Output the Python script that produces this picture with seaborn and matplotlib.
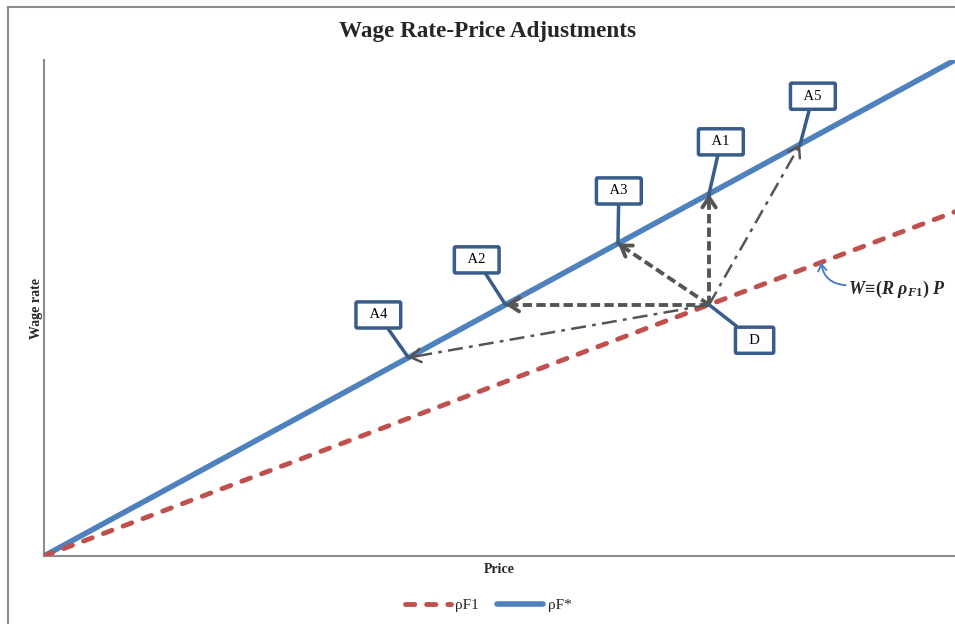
import numpy as np
import pandas as pd
import matplotlib.pyplot as plt
import matplotlib.patches as mpatches
from matplotlib.lines import Line2D
import seaborn as sns

# ── Data ───────────────────────────────────────────────────────────────────────
price = [0, 100]
slope_f1 = 0.694      # rho F1 (original real wage ratio)
slope_fstar = 1.0     # rho F* (target ratio)
wage_f1 = [p * slope_f1 for p in price]
wage_fstar = [p * slope_fstar for p in price]

# starting point D on the rho F1 line
d_price = 73.0
d_wage = d_price * slope_f1

# adjustment targets on the rho F* line (price, wage)
targets = {
    "A1": (d_price, d_price),          # wage rises, price constant
    "A2": (d_wage, d_wage),            # price falls, wage constant
    "A3": (63.0, 63.0),
    "A4": (40.0, 40.0),
    "A5": (83.0, 83.0),
}
dashed_moves = ["A1", "A2", "A3"]
dashdot_moves = ["A4", "A5"]

# callout box positions (data units)
label_pos = {
    "A1": (74.3, 83.5),
    "A2": (47.5, 59.7),
    "A3": (63.1, 73.6),
    "A4": (36.7, 48.6),
    "A5": (84.4, 92.7),
    "D": (78.0, 43.5),
}

df = pd.DataFrame({"price": price, "f1": wage_f1, "fstar": wage_fstar})

# ── Layout ─────────────────────────────────────────────────────────────────────
sns.set_theme(style="white")
plt.rcParams["font.family"] = ["Liberation Serif", "DejaVu Serif"]
plt.rcParams["mathtext.fontset"] = "custom"
plt.rcParams["mathtext.it"] = "Liberation Serif:italic:bold"
plt.rcParams["mathtext.rm"] = "Liberation Serif:bold"
plt.rcParams["mathtext.bf"] = "Liberation Serif:bold"

fig = plt.figure(figsize=(9.55, 6.24), dpi=100)
ax = fig.add_axes([44 / 955, 68 / 624, 911 / 955, 496 / 624])

# outer chart frame (partly cut off, like the reference)
fig.patches.append(mpatches.Rectangle((8 / 955, -0.1), 1.2, 1 - 7 / 624 + 0.1,
                                      transform=fig.transFigure, fill=False,
                                      edgecolor="#8c8c8c", linewidth=1.5))

RED = "#c0504d"
BLUE = "#4f81bd"
GREY = "#555555"
BOX = "#385d8a"
RED_DASH = (1.9, 2.45)

sns.lineplot(data=df, x="price", y="fstar", ax=ax, color=BLUE, linewidth=4,
             solid_capstyle="butt", zorder=3)
sns.lineplot(data=df, x="price", y="f1", ax=ax, color=RED, linewidth=3.5,
             dashes=RED_DASH, dash_capstyle="round", zorder=3)

# adjustment arrows from D
for name in dashed_moves + dashdot_moves:
    tx, ty = targets[name]
    if name in dashed_moves:
        ls, lw = (0, (2.4, 1.1)), 2.8
    else:
        ls, lw = (0, (6, 2.5, 1.5, 2.5)), 1.8
    ax.plot([d_price, tx], [d_wage, ty], color=GREY, linestyle=ls, linewidth=lw, zorder=4)
    ax.annotate("", xy=(tx, ty),
                xytext=(tx + (d_price - tx) * 0.03, ty + (d_wage - ty) * 0.03),
                arrowprops=dict(arrowstyle="->,head_length=0.6,head_width=0.4",
                                color=GREY, lw=lw, shrinkA=0, shrinkB=0), zorder=4)

# callout boxes
points = dict(targets)
points["D"] = (d_price, d_wage)
for name, (lx, ly) in label_pos.items():
    ax.annotate(f"  {name}  ", xy=points[name], xytext=(lx, ly),
                ha="center", va="center", fontsize=10.5, color="black",
                bbox=dict(boxstyle="round,pad=0.45,rounding_size=0.1", fc="white",
                          ec=BOX, lw=2.5),
                arrowprops=dict(arrowstyle="-", color=BOX, lw=2.5,
                                shrinkA=0, shrinkB=0), zorder=6)

# equation label with curved pointer
eq_x = 88.3
ax.text(eq_x, 53.8, r"$W\!\equiv\!(R\ \rho_{F1})\ P$", fontsize=13,
        ha="left", va="center", zorder=6)
ax.annotate("", xy=(85.3, 85.3 * slope_f1), xytext=(88.0, 54.6),
            arrowprops=dict(arrowstyle="->,head_length=0.4,head_width=0.25",
                            color=BLUE, lw=1.4, connectionstyle="arc3,rad=-0.4",
                            shrinkA=0, shrinkB=0), zorder=6)

ax.set_xlim(0, 100)
ax.set_ylim(0, 100)
ax.set_xticks([])
ax.set_yticks([])
for side in ["top", "right"]:
    ax.spines[side].set_visible(False)
for side in ["left", "bottom"]:
    ax.spines[side].set_color("#8c8c8c")
    ax.spines[side].set_linewidth(1.5)
ax.set_xlabel("Price", fontsize=10, fontweight="bold", labelpad=5)
ax.set_ylabel("Wage rate", fontsize=10, fontweight="bold", labelpad=1)

fig.text(488 / 955, 1 - 32 / 624, "Wage Rate-Price Adjustments",
         ha="center", va="center", fontsize=16.7, fontweight="bold")

handles = [Line2D([], [], color=RED, linewidth=3.5, dashes=RED_DASH, dash_capstyle="round"),
           Line2D([], [], color=BLUE, linewidth=4)]
fig.legend(handles, ["ρF1", "ρF*"], loc="center", bbox_to_anchor=(488 / 955, 1 - 605 / 624),
           ncol=2, frameon=False, fontsize=11, handlelength=3.0, handletextpad=0.3,
           columnspacing=1.2)

plt.savefig("out.png", dpi=100)
